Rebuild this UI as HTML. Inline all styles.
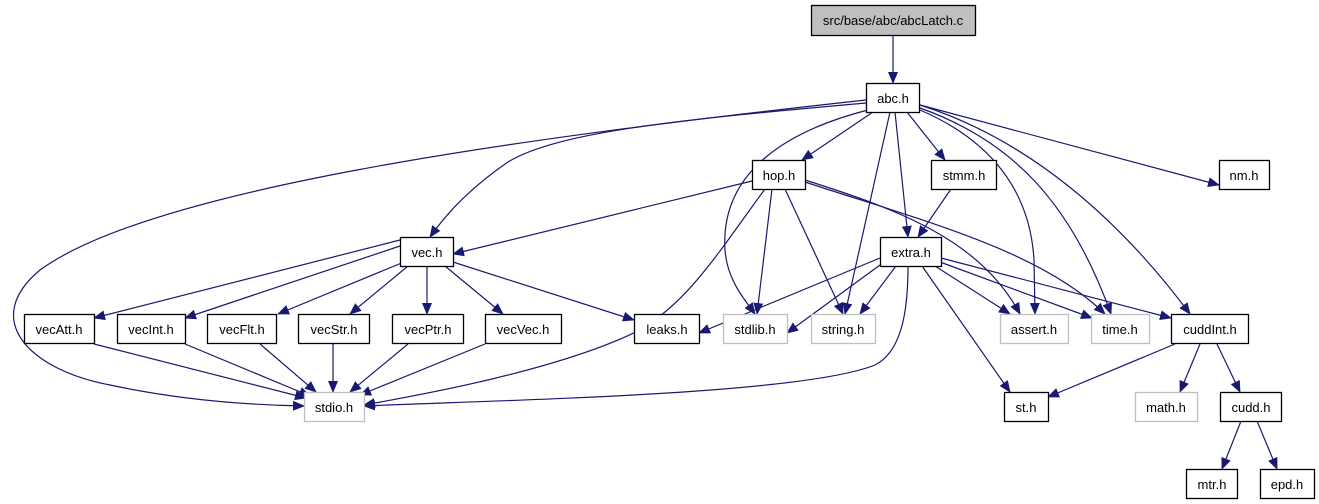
<!DOCTYPE html>
<html><head><meta charset="utf-8"><style>
html,body{margin:0;padding:0;background:#fff;width:1319px;height:504px;overflow:hidden}
svg{display:block}
text{font-family:"Liberation Sans",Helvetica,sans-serif;font-size:13px;fill:#000}
.e{fill:none;stroke:#191970;stroke-width:1.2}
.n{fill:#fff;stroke:#000;stroke-width:1.3}
.g{fill:#fff;stroke:#bfbfbf;stroke-width:1.3}
</style></head><body>
<svg width="1319" height="504" viewBox="0 0 1319 504" xmlns="http://www.w3.org/2000/svg">
<defs>
<marker id="a" markerUnits="userSpaceOnUse" markerWidth="12" markerHeight="10" viewBox="0 0 12 10" refX="11" refY="5" orient="auto">
<path d="M0,0 L12,5 L0,10 z" fill="#191970"/>
</marker>
</defs>
<g marker-end="url(#a)">
<path class="e" d="M893,35 L893,83"/>
<path class="e" d="M866,103 C700,118 560,130 508,162 C470,188 446,214 430,237"/>
<path class="e" d="M866,100 C500,140 150,190 40,270 C-20,320 30,370 110,385 C180,400 250,405 304,406"/>
<path class="e" d="M873,112 L802,160"/>
<path class="e" d="M868,110 C790,130 720,170 725,250 C727,280 745,300 755,314"/>
<path class="e" d="M890,112 L845,314"/>
<path class="e" d="M895,112 L908,237"/>
<path class="e" d="M907,112 L945,160"/>
<path class="e" d="M920,110 C990,140 1030,190 1034,260 L1035,314"/>
<path class="e" d="M920,108 C1010,140 1070,200 1111,314"/>
<path class="e" d="M920,105 C1030,140 1120,220 1190,314"/>
<path class="e" d="M920,105 L1219,185"/>
<path class="e" d="M752,181 L453,254"/>
<path class="e" d="M765,189 C720,250 690,300 640,330 C560,370 420,395 364,405"/>
<path class="e" d="M772,189 L757,314"/>
<path class="e" d="M785,189 L843,314"/>
<path class="e" d="M805,180 C900,210 980,240 1020,314"/>
<path class="e" d="M805,182 C920,220 1040,250 1105,314"/>
<path class="e" d="M951,189 L918,237"/>
<path class="e" d="M880,258 L699,333"/>
<path class="e" d="M880,265 L787,333"/>
<path class="e" d="M896,266 L860,314"/>
<path class="e" d="M908,266 C908,300 905,350 875,365 C800,395 500,400 364,406"/>
<path class="e" d="M922,266 L1010,392"/>
<path class="e" d="M935,266 L1010,314"/>
<path class="e" d="M940,262 L1092,318"/>
<path class="e" d="M941,258 L1171,318"/>
<path class="e" d="M1175,344 L1048,397"/>
<path class="e" d="M1200,344 L1180,392"/>
<path class="e" d="M1217,344 L1240,392"/>
<path class="e" d="M1241,421 L1222,469"/>
<path class="e" d="M1257,421 L1277,469"/>
<path class="e" d="M400,240 L94,318"/>
<path class="e" d="M400,246 L185,318"/>
<path class="e" d="M404,262 L278,314"/>
<path class="e" d="M408,266 L350,314"/>
<path class="e" d="M427,266 L427,314"/>
<path class="e" d="M445,266 L503,314"/>
<path class="e" d="M453,262 L634,320"/>
<path class="e" d="M94,344 L306,398"/>
<path class="e" d="M185,344 L310,396"/>
<path class="e" d="M260,344 L316,392"/>
<path class="e" d="M333,344 L333,392"/>
<path class="e" d="M408,344 L350,392"/>
<path class="e" d="M485,344 L360,395"/>
</g>
<rect x="811.5" y="5.5" width="164" height="30" fill="#bfbfbf" stroke="#000" stroke-width="1.3"/>
<text x="893" y="25" text-anchor="middle">src/base/abc/abcLatch.c</text>
<g text-anchor="middle">
<rect class="n" x="866.5" y="83.5" width="53" height="29"/><text x="893" y="103">abc.h</text>
<rect class="n" x="752.5" y="160.5" width="53" height="29"/><text x="779" y="180">hop.h</text>
<rect class="n" x="931.5" y="160.5" width="65" height="29"/><text x="964" y="180">stmm.h</text>
<rect class="n" x="1219.5" y="160.5" width="50" height="29"/><text x="1244" y="180">nm.h</text>
<rect class="n" x="400.5" y="237.5" width="53" height="29"/><text x="427" y="257">vec.h</text>
<rect class="n" x="880.5" y="237.5" width="61" height="29"/><text x="911" y="257">extra.h</text>
<rect class="n" x="24.5" y="314.5" width="70" height="29"/><text x="59" y="334">vecAtt.h</text>
<rect class="n" x="117.5" y="314.5" width="68" height="29"/><text x="151" y="334">vecInt.h</text>
<rect class="n" x="207.5" y="314.5" width="69" height="29"/><text x="242" y="334">vecFlt.h</text>
<rect class="n" x="298.5" y="314.5" width="71" height="29"/><text x="334" y="334">vecStr.h</text>
<rect class="n" x="392.5" y="314.5" width="71" height="29"/><text x="428" y="334">vecPtr.h</text>
<rect class="n" x="485.5" y="314.5" width="76" height="29"/><text x="523" y="334">vecVec.h</text>
<rect class="n" x="634.5" y="314.5" width="65" height="29"/><text x="667" y="334">leaks.h</text>
<rect class="g" x="723.5" y="314.5" width="64" height="29"/><text x="755" y="334">stdlib.h</text>
<rect class="g" x="811.5" y="314.5" width="64" height="29"/><text x="843" y="334">string.h</text>
<rect class="g" x="1000.5" y="314.5" width="68" height="29"/><text x="1034" y="334">assert.h</text>
<rect class="g" x="1091.5" y="314.5" width="58" height="29"/><text x="1120" y="334">time.h</text>
<rect class="n" x="1171.5" y="314.5" width="77" height="29"/><text x="1210" y="334">cuddInt.h</text>
<rect class="g" x="304.5" y="392.5" width="60" height="29"/><text x="334" y="412">stdio.h</text>
<rect class="n" x="1004.5" y="392.5" width="44" height="29"/><text x="1026" y="412">st.h</text>
<rect class="g" x="1135.5" y="392.5" width="62" height="29"/><text x="1166" y="412">math.h</text>
<rect class="n" x="1220.5" y="392.5" width="61" height="29"/><text x="1251" y="412">cudd.h</text>
<rect class="n" x="1186.5" y="469.5" width="51" height="29"/><text x="1212" y="489">mtr.h</text>
<rect class="n" x="1260.5" y="469.5" width="54" height="29"/><text x="1287" y="489">epd.h</text>
</g>
</svg>
</body></html>
